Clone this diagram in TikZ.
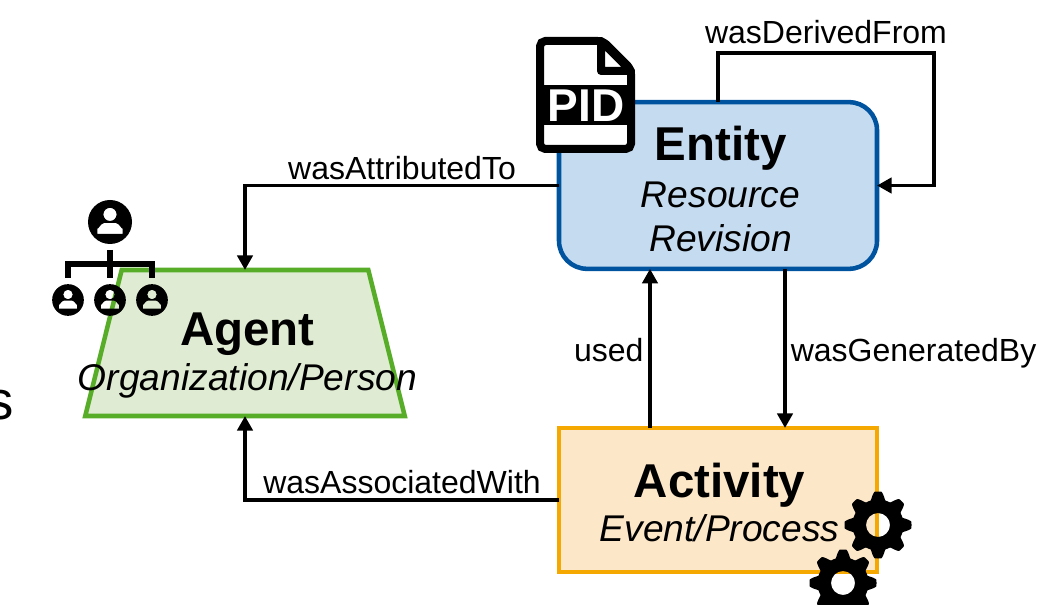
\documentclass[tikz,border=0pt]{standalone}
\usepackage{fontspec}
\setmainfont{Liberation Sans}
\usepackage{xcolor}
\usetikzlibrary{shapes,shapes.geometric,arrows.meta,positioning,calc}
\definecolor{entityfill}{HTML}{C5DBF0}
\definecolor{entityline}{HTML}{00539F}
\definecolor{activityfill}{HTML}{FDE7C9}
\definecolor{activityline}{HTML}{F5A800}
\definecolor{agentfill}{HTML}{DFEBD2}
\definecolor{agentline}{HTML}{58AD28}
\newcommand{\titlefont}{\fontsize{35.6pt}{36pt}\selectfont\bfseries\upshape}
\newcommand{\subfont}{\fontsize{27.9pt}{33.5pt}\selectfont\itshape\lineskiplimit=-30pt\relax}
\tikzset{
    boxtext/.style={align=center, inner sep=0pt, font=\subfont},
    edgelabel/.style={font=\fontsize{24pt}{24pt}\selectfont, inner sep=0pt},
    flow/.style={-{Stealth[length=11pt,width=11.5pt,inset=0pt]}, line width=2.7pt},
    pics/personicon/.style={code={
        \fill[even odd rule] (0,0) circle (22)
            (0,-7.6) circle (6.6)
            (-12.7,12) -- (-12.7,6) to[out=-90,in=180] (-6,1) -- (6,1) to[out=0,in=-90] (12.7,6) -- (12.7,12) -- cycle;
    }},
    pics/gearicon/.style={code={
        \fill[even odd rule] plot[domain=0:360, samples=193] (\x:{29.5+4*min(1,max(-1,1.5*cos(8*\x)))}) -- cycle
            (0,0) circle (12);
    }}
}

\begin{document}
\begin{tikzpicture}[x=0.75pt, y=-0.75pt]
    \useasboundingbox (0,0) rectangle (1059,605);

    % Cut-off text on the left
    \node[font=\fontsize{41pt}{41pt}\selectfont, inner sep=0pt, anchor=base] (cutoff) at (0,419) {s};

    % Boxes
    \node[draw=entityline, fill=entityfill, line width=3.4pt, rounded corners=21pt, outer sep=0pt, inner sep=0pt, minimum width=238.5pt, minimum height=125pt] (entity) at (718,185.5) {};
    \node[draw=activityline, fill=activityfill, line width=3.4pt, outer sep=0pt, inner sep=0pt, minimum width=238.5pt, minimum height=108pt] (activity) at (718,500) {};
    \node[draw=agentline, fill=agentfill, line width=3.4pt, trapezium, trapezium left angle=76, trapezium right angle=76, outer sep=0pt, inner sep=1pt, text width=183pt, text height=107.5pt, text depth=0pt] (agent) at (245,343) {};

    % Box texts
    \node[boxtext] (entitytext) at (720.5,189) {{\titlefont Entity}\\[1.5pt]Resource\\Revision};
    \node[boxtext] (activitytext) at (719.5,502.5) {{\titlefont Activity}\\Event/Process};
    \node[boxtext] (agenttext) at (247.5,355.5) {{\titlefont Agent}\\Organization/Person};

    % Arrows
    \coordinate (loopcorner) at (934,53);
    \draw[flow] (entity.west) -| node[pos=0.25, above=3pt, edgelabel] (attributedlabel) {wasAttributedTo} (agent.top side);
    \draw[flow] (entity.north) |- node[pos=0.75, above=5.5pt, edgelabel] (derivedlabel) {wasDerivedFrom} (loopcorner) |- (entity.east);
    \draw[flow] ([xshift=-51pt]activity.north) -- node[pos=0.49, left=3.5pt, edgelabel] (usedlabel) {used} ([xshift=-51pt]entity.south);
    \draw[flow] ([xshift=50.25pt]entity.south) -- node[pos=0.53, right=3pt, edgelabel] (generatedlabel) {wasGeneratedBy} ([xshift=50.25pt]activity.north);
    \draw[flow] (activity.west) -| node[pos=0.25, above=3pt, edgelabel] (associatedlabel) {wasAssociatedWith} (agent.bottom side);

    % PID file
    \draw[line width=6pt, fill=white, rounded corners=4pt] (540,41) -- (603,41) -- (631,69) -- (631,149) -- (540,149) -- cycle;
    \draw[line width=6pt, fill=white, line join=round] (601,41) -- (601,71) -- (631,71) -- cycle;
    \fill (540,85) rectangle (631,125);
    \node[text=white, font=\fontsize{34.5pt}{34.5pt}\selectfont\bfseries, inner sep=0pt] (pid) at (586,106) {PID};

    % People
    \draw[line width=4.5pt] (110,250) -- (110,278) (68,278) |- (152,264) -- (152,278);
    \pic at (110,222) {personicon};
    \pic[scale=0.72] at (68,300) {personicon};
    \pic[scale=0.72] at (110,300) {personicon};
    \pic[scale=0.72] at (152,300) {personicon};

    % Gears
    \pic at (878,525) {gearicon};
    \pic at (843,583) {gearicon};
\end{tikzpicture}
\end{document}
